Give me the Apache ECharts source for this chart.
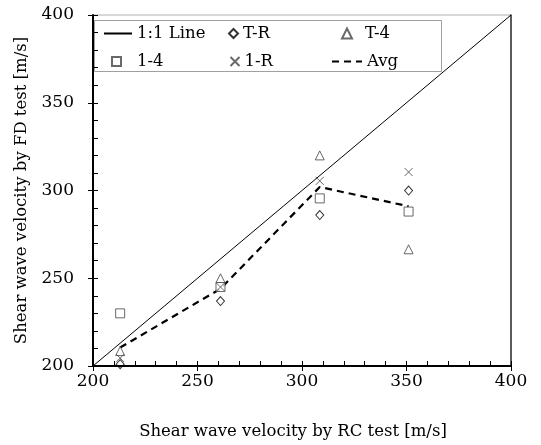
<!DOCTYPE html>
<html><head><meta charset="utf-8">
<script src="https://cdn.jsdelivr.net/npm/echarts@6/dist/echarts.min.js"></script>
<style>html,body{margin:0;padding:0;background:#fff}#c{width:541px;height:445px}</style>
</head><body><div id="c"></div>
<script>
// RC test shear wave velocity (x) for each sample group
const rcX = [213, 261, 308.5, 351];
// FD test shear wave velocity (y) per series
const tR  = [201, 237, 286, 300];
const t4  = [208.5, 250, 320, 266.5];
const s14 = [230, 245, 295.5, 288];
const s1R = [204.5, 245, 305.5, 310.5];
const avg = [210.5, 244, 302, 291];
const oneToOne = [[200, 200], [400, 400]];
const axisMin = 200, axisMax = 400, axisStep = 50;
const xTitle = 'Shear wave velocity by RC test [m/s]';
const yTitle = 'Shear wave velocity by FD test [m/s]';

const pair = ys => rcX.map((x, i) => [x, ys[i]]);
const FONT = 'DejaVu Serif';

const chart = echarts.init(document.getElementById('c'), null, {renderer: 'canvas'});

function mainAxis(name, gap, isX) {
  return {
    type: 'value', min: axisMin, max: axisMax, interval: axisStep,
    name: name, nameLocation: 'middle', nameGap: gap,
    nameTextStyle: {fontFamily: FONT, fontSize: 16.5, color: '#000', padding: isX ? [0, 18, 0, 0] : 0},
    axisLine: {show: true, lineStyle: {color: '#000', width: 2}},
    axisTick: {show: true, inside: true, length: 5, lineStyle: {color: '#000', width: 1}},
    minorTick: {show: true, splitNumber: 5, length: 5, lineStyle: {color: '#000', width: 1}},
    axisLabel: {fontFamily: FONT, fontSize: 17, color: '#000', margin: isX ? 7 : 19},
    splitLine: {show: false}, z: 5
  };
}
function tickAxis(pos, extra) {
  return Object.assign({
    type: 'value', min: axisMin, max: axisMax, interval: axisStep, position: pos,
    axisLine: {show: false},
    axisTick: {show: true, inside: false, length: 5, lineStyle: {color: '#000', width: 1}},
    axisLabel: {show: false}, splitLine: {show: false}
  }, extra || {});
}

const symStyle = c => ({color: '#fff', borderColor: c, borderWidth: 1});

const legendBase = {
  orient: 'horizontal', padding: 0, itemGap: 0,
  selectedMode: false
};
function leg(name, left, top, w, h, padLeft, extra) {
  return Object.assign({}, legendBase, {
    data: [name], left: left, top: top, itemWidth: w, itemHeight: h,
    textStyle: {fontFamily: FONT, fontSize: 16.5, color: '#000', padding: [0, 0, 0, padLeft || 0]}
  }, extra || {});
}
const hideSym = {itemStyle: {opacity: 0}};

chart.setOption({
  animation: false,
  backgroundColor: '#fff',
  grid: {left: 93, right: 30, top: 15, bottom: 78, show: true, borderColor: '#b0b0b0', borderWidth: 1},
  xAxis: [
    mainAxis(xTitle, 57, true),
    tickAxis('bottom')
  ],
  yAxis: [
    mainAxis(yTitle, 61, false),
    tickAxis('left'),
    tickAxis('right', {axisLine: {show: true, lineStyle: {color: '#333', width: 1.5}}, axisTick: {show: false}})
  ],
  graphic: [{
    type: 'rect', left: 94, top: 20, z: 1,
    shape: {width: 347, height: 51},
    style: {fill: '#fff', stroke: '#a0a0a0', lineWidth: 1}
  }],
  legend: [
    leg('1:1 Line', 103, 25, 28, 14, 0, hideSym),
    leg('T-R', 228, 25, 9, 9, 0),
    leg('T-4', 341, 25, 10, 10, 8),
    leg('1-4', 111, 53, 9, 9, 11),
    leg('1-R', 228, 53, 9, 9, 0),
    leg('Avg', 331, 53, 30, 14, 0, hideSym)
  ],
  series: [
    {name: '1:1 Line', type: 'line', data: oneToOne, symbol: 'none', silent: true,
     lineStyle: {color: '#000', width: 1}, itemStyle: {color: '#000'}, z: 2},
    {name: 'Avg', type: 'line', data: pair(avg), symbol: 'none', silent: true,
     lineStyle: {color: '#000', width: 2.2, type: [7, 5]}, itemStyle: {color: '#000'}, z: 3},
    {name: 'T-R', type: 'scatter', data: pair(tR), symbol: 'diamond', symbolSize: [8, 9], itemStyle: symStyle('#000'), z: 4},
    {name: 'T-4', type: 'scatter', data: pair(t4), symbol: 'triangle', symbolSize: [9, 9], itemStyle: symStyle('#444'), z: 4},
    {name: '1-4', type: 'scatter', data: pair(s14), symbol: 'rect', symbolSize: [9, 9], itemStyle: symStyle('#444'), z: 4},
    {name: '1-R', type: 'scatter', data: pair(s1R), symbol: 'path://M0,0L10,10M10,0L0,10', symbolSize: [8, 8],
     itemStyle: {color: 'none', borderColor: '#444', borderWidth: 1}, z: 4}
  ]
});
</script></body></html>
